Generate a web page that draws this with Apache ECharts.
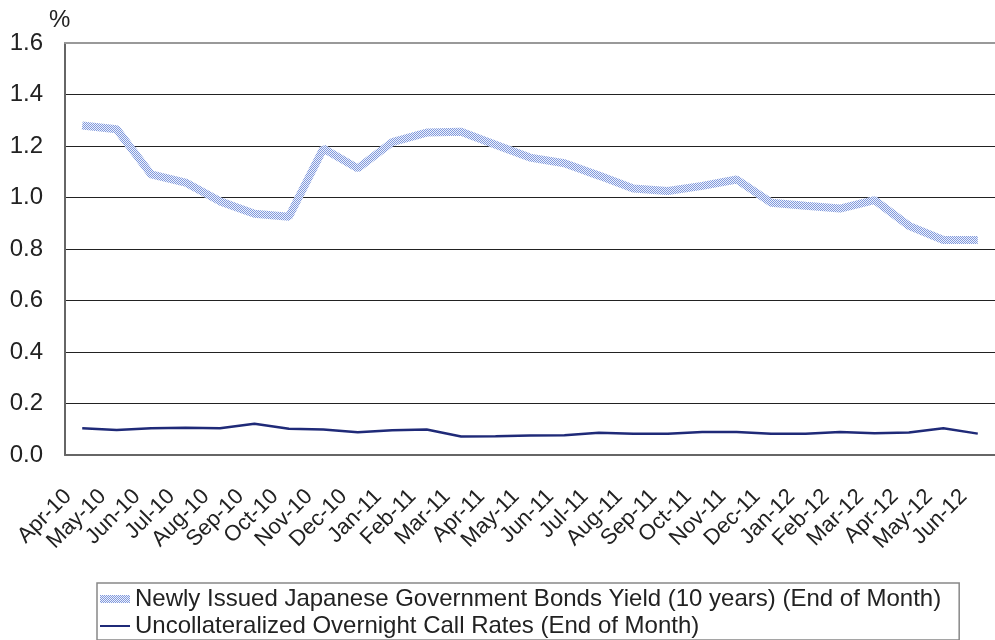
<!DOCTYPE html>
<html>
<head>
<meta charset="utf-8">
<script src="https://cdn.jsdelivr.net/npm/echarts@6/dist/echarts.min.js"></script>
<style>
html,body{margin:0;padding:0;background:#fff;}
#chart{width:995px;height:640px;}
</style>
</head>
<body>
<div id="chart"></div>
<script>
const categories = ["Apr-10","May-10","Jun-10","Jul-10","Aug-10","Sep-10","Oct-10","Nov-10","Dec-10","Jan-11","Feb-11","Mar-11","Apr-11","May-11","Jun-11","Jul-11","Aug-11","Sep-11","Oct-11","Nov-11","Dec-11","Jan-12","Feb-12","Mar-12","Apr-12","May-12","Jun-12"];
const bondYield = [1.28,1.265,1.09,1.058,0.985,0.937,0.925,1.19,1.113,1.215,1.252,1.255,1.205,1.155,1.133,1.085,1.035,1.025,1.045,1.07,0.98,0.968,0.957,0.99,0.89,0.835,0.835];
const callRate = [0.104,0.097,0.104,0.106,0.104,0.121,0.102,0.099,0.088,0.096,0.099,0.072,0.073,0.076,0.077,0.086,0.083,0.083,0.089,0.089,0.083,0.083,0.089,0.084,0.087,0.104,0.083];
const yTicks = {min: 0, max: 1.6, interval: 0.2};
const seriesNames = ["Newly Issued Japanese Government Bonds Yield (10 years) (End of Month)", "Uncollateralized Overnight Call Rates (End of Month)"];

// dotted pattern for the bond yield line
const pc = document.createElement('canvas');
pc.width = 2; pc.height = 2;
const pctx = pc.getContext('2d');
pctx.fillStyle = '#eef2fb';
pctx.fillRect(0,0,2,2);
pctx.fillStyle = '#8199dd';
pctx.fillRect(0,0,1,1);
pctx.fillRect(1,1,1,1);
const pattern = {image: pc, repeat: 'repeat'};

const font = '"Liberation Sans", Arial, Helvetica, sans-serif';
const chart = echarts.init(document.getElementById('chart'), null, {renderer: 'canvas'});
chart.setOption({
  animation: false,
  backgroundColor: '#fff',
  textStyle: {fontFamily: font},
  grid: {left: 65, right: 0, top: 43, bottom: 185, containLabel: false},
  legend: {
    orient: 'vertical',
    left: 97, top: 583,
    padding: [4, 18, 2, 3],
    borderColor: '#888', borderWidth: 1.5,
    itemWidth: 30, itemHeight: 8, itemGap: 3,
    textStyle: {fontFamily: font, fontSize: 24, color: '#222', lineHeight: 24},
    data: [
      {name: seriesNames[0], icon: 'rect'},
      {name: seriesNames[1], icon: 'path://M0,0 L30,0 L30,2 L0,2 Z'}
    ]
  },
  xAxis: [{
    type: 'category',
    data: categories,
    boundaryGap: true,
    axisLine: {lineStyle: {color: '#666', width: 2}},
    axisTick: {inside: true, length: 6, lineStyle: {color: '#444', width: 1}},
    axisLabel: {interval: 0, rotate: 45, margin: 24, padding: [0, 20, 0, 0], fontSize: 22, color: '#222', fontFamily: font},
    splitLine: {show: false}
  }, {
    type: 'category',
    data: categories,
    position: 'top',
    boundaryGap: true,
    axisLine: {show: true, lineStyle: {color: '#999', width: 2}},
    axisTick: {show: false},
    axisLabel: {show: false},
    splitLine: {show: false}
  }],
  yAxis: {
    type: 'value',
    min: yTicks.min, max: yTicks.max, interval: yTicks.interval,
    name: '%',
    nameLocation: 'end',
    nameGap: 11,
    nameTextStyle: {fontSize: 24, color: '#222', fontFamily: font, align: 'left', padding: [0, 0, 0, -16]},
    axisLine: {show: true, lineStyle: {color: '#666', width: 2}},
    axisTick: {show: false},
    axisLabel: {fontSize: 24, color: '#222', margin: 22, fontFamily: font, formatter: v => v.toFixed(1)},
    splitLine: {show: true, lineStyle: {color: '#222', width: 1}}
  },
  series: [
    {
      name: seriesNames[0],
      type: 'line',
      data: bondYield,
      symbol: 'none',
      lineStyle: {color: pattern, width: 8},
      itemStyle: {color: pattern},
      z: 3
    },
    {
      name: seriesNames[1],
      type: 'line',
      data: callRate,
      symbol: 'none',
      lineStyle: {color: '#1f2a78', width: 2.5},
      itemStyle: {color: '#1f2a78'},
      z: 4
    }
  ]
});
</script>
</body>
</html>
